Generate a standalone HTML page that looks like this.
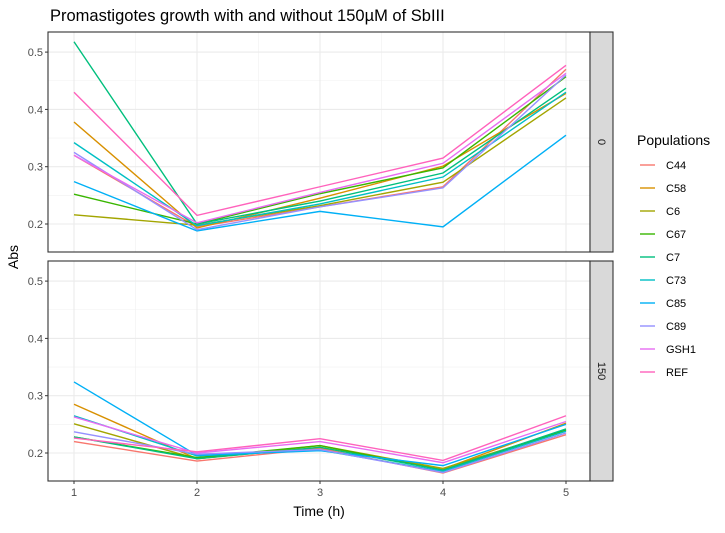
<!DOCTYPE html>
<html><head><meta charset="utf-8"><style>
body{margin:0;background:#fff;font-family:"Liberation Sans",sans-serif}
</style></head><body>
<svg id="c" width="725" height="528" xmlns="http://www.w3.org/2000/svg" font-family="Liberation Sans, sans-serif"></svg>
<script>
const series=["C44","C58","C6","C67","C7","C73","C85","C89","GSH1","REF"];
const colors=["#F8766D","#D89000","#A3A500","#39B600","#00BF7D","#00BFC4","#00B0F6","#9590FF","#E76BF3","#FF62BC"];
const times=[1,2,3,4,5];
const xTicks=[1,2,3,4,5];
const yTicks=[0.2,0.3,0.4,0.5];
const panels=["0","150"];
const vals0=[
[0.32,0.195,0.23,0.265,0.47],
[0.378,0.193,0.245,0.301,0.428],
[0.216,0.198,0.232,0.273,0.42],
[0.252,0.2,0.253,0.298,0.457],
[0.518,0.2,0.24,0.289,0.437],
[0.342,0.197,0.235,0.282,0.43],
[0.274,0.188,0.222,0.195,0.355],
[0.325,0.19,0.23,0.263,0.46],
[0.32,0.202,0.255,0.306,0.463],
[0.43,0.215,0.265,0.315,0.477]];
const vals150=[
[0.22,0.186,0.208,0.165,0.232],
[0.285,0.19,0.21,0.172,0.252],
[0.251,0.19,0.213,0.173,0.24],
[0.228,0.192,0.213,0.17,0.24],
[0.228,0.19,0.21,0.17,0.242],
[0.265,0.195,0.205,0.168,0.238],
[0.324,0.196,0.204,0.178,0.25],
[0.237,0.198,0.206,0.166,0.235],
[0.263,0.2,0.22,0.183,0.255],
[0.226,0.202,0.225,0.187,0.265]];
const data=[vals0,vals150];
const NS="http://www.w3.org/2000/svg";
const svg=document.getElementById('c');
function el(t,a,p){const e=document.createElementNS(NS,t);for(const k in a)e.setAttribute(k,a[k]);(p||svg).appendChild(e);return e;}
const L=48,R=590,X=v=>74+(v-1)*123;
const tops=[32,261],H=220;
function Y(v,i){return tops[i]+192-(v-0.2)*573;}
let t=el('text',{x:50,y:21,'font-size':16.5,fill:'#000'});t.textContent='Promastigotes growth with and without 150µM of SbIII';


panels.forEach((p,i)=>{
  const g=el('g',{});
  
  
  el('rect',{x:L,y:tops[i],width:R-L,height:H,fill:'#fff'},g);
  [0.15,0.25,0.35,0.45].forEach(v=>{const y=Y(v,i);if(y>tops[i]&&y<tops[i]+H)el('line',{x1:L,x2:R,y1:y,y2:y,stroke:'#f0f0f0','stroke-width':0.6},g);});
  [1.5,2.5,3.5,4.5].forEach(v=>el('line',{x1:X(v),x2:X(v),y1:tops[i],y2:tops[i]+H,stroke:'#f0f0f0','stroke-width':0.6},g));
  yTicks.forEach(v=>{const y=Y(v,i);el('line',{x1:L,x2:R,y1:y,y2:y,stroke:'#ebebeb','stroke-width':1.1},g);
    el('line',{x1:L-3,x2:L,y1:y,y2:y,stroke:'#333'},g);
    const tx=el('text',{x:L-5,y:y+4,'font-size':11,fill:'#4d4d4d','text-anchor':'end'},g);tx.textContent=v.toFixed(1);
    
    });
  xTicks.forEach(v=>el('line',{x1:X(v),x2:X(v),y1:tops[i],y2:tops[i]+H,stroke:'#ebebeb','stroke-width':1.1},g));
  data[i].forEach((s,k)=>{
    const pl=el('polyline',{points:s.map((v,j)=>X(times[j])+','+Y(v,i)).join(' '),fill:'none',stroke:colors[k],'stroke-width':1.4},g);
    
    
  });
  el('rect',{x:L,y:tops[i],width:R-L,height:H,fill:'none',stroke:'#333','stroke-width':1.1},g);
  el('rect',{x:R,y:tops[i],width:23,height:H,fill:'#d9d9d9',stroke:'#333','stroke-width':1.1},g);
  const st=el('text',{x:0,y:0,'font-size':11,fill:'#1a1a1a','text-anchor':'middle',transform:`translate(${R+8},${tops[i]+H/2}) rotate(90)`},g);
  st.textContent=p;
  
  
});
xTicks.forEach(v=>{el('line',{x1:X(v),x2:X(v),y1:481,y2:484,stroke:'#333'});
  const tx=el('text',{x:X(v),y:496,'font-size':11,fill:'#4d4d4d','text-anchor':'middle'});tx.textContent=v;
  
  });
let xt=el('text',{x:319,y:516,'font-size':14,'text-anchor':'middle'});xt.textContent='Time (h)';


let yt=el('text',{x:0,y:0,'font-size':14,'text-anchor':'middle',transform:'translate(18,257) rotate(-90)'});yt.textContent='Abs';


let lt=el('text',{x:637,y:145,'font-size':14});lt.textContent='Populations';


series.forEach((s,k)=>{const y=165+k*23;
  const g=el('g',{});
  
  
  el('line',{x1:640,x2:655,y1:y,y2:y,stroke:colors[k],'stroke-width':1.4},g);
  const tx=el('text',{x:666,y:y+4,'font-size':11},g);tx.textContent=s;});
</script>
</body></html>
